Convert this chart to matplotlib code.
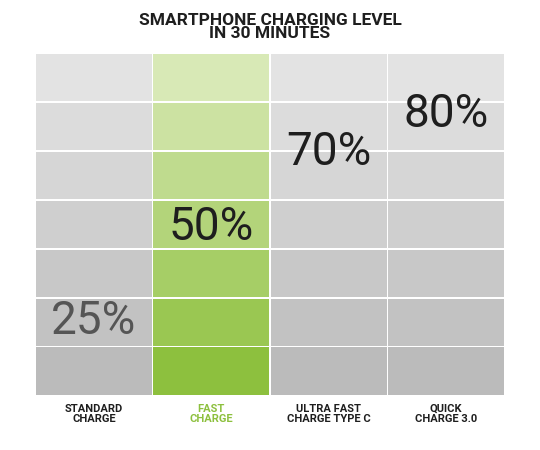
import matplotlib
matplotlib.use("Agg")
import matplotlib.pyplot as plt
from matplotlib.patches import Rectangle
import numpy as np

categories = ["STANDARD\nCHARGE", "FAST\nCHARGE", "ULTRA FAST\nCHARGE TYPE C", "QUICK\nCHARGE 3.0"]
values = [25, 50, 70, 80]
labels = ["25%", "50%", "70%", "80%"]
highlight = 1

fig = plt.figure(figsize=(5.4, 4.5), dpi=100)
ax = fig.add_axes([0.065, 0.122, 0.87, 0.762])
ax.set_xlim(0, 4)
ax.set_ylim(0, 100)
ax.axis("off")

nb = 7
def lerp(c1, c2, t):
    c1 = np.array(matplotlib.colors.to_rgb(c1)); c2 = np.array(matplotlib.colors.to_rgb(c2))
    return c1 + (c2 - c1) * t

for i in range(4):
    top, bot = ("#d8e9b6", "#8dc03e") if i == highlight else ("#e3e3e3", "#bbbbbb")
    for b in range(nb):
        t = b / (nb - 1)
        col = lerp(bot, top, t)
        ax.add_patch(Rectangle((i + 0.008, b * 100 / nb), 0.984, 100 / nb - 0.4,
                               facecolor=col, edgecolor="none"))
    color = "#555555" if i == 0 else "#1e1e1e"
    ax.text(i + 0.5, values[i] * 1.1 - 6, labels[i], ha="center", va="center",
            fontsize=33, family="Roboto", color=color)
    ax.text(i + 0.5, -2.5, categories[i], ha="center", va="top", fontsize=8,
            fontweight="bold", family="Roboto", linespacing=1.0,
            color="#8dc03e" if i == highlight else "#1e1e1e")

fig.text(0.5, 0.94, "SMARTPHONE CHARGING LEVEL\nIN 30 MINUTES", ha="center", va="center",
         fontsize=12.5, fontweight="bold", family="Roboto", linespacing=0.85, color="#1e1e1e")
fig.savefig("out.png", dpi=100, facecolor="white")
